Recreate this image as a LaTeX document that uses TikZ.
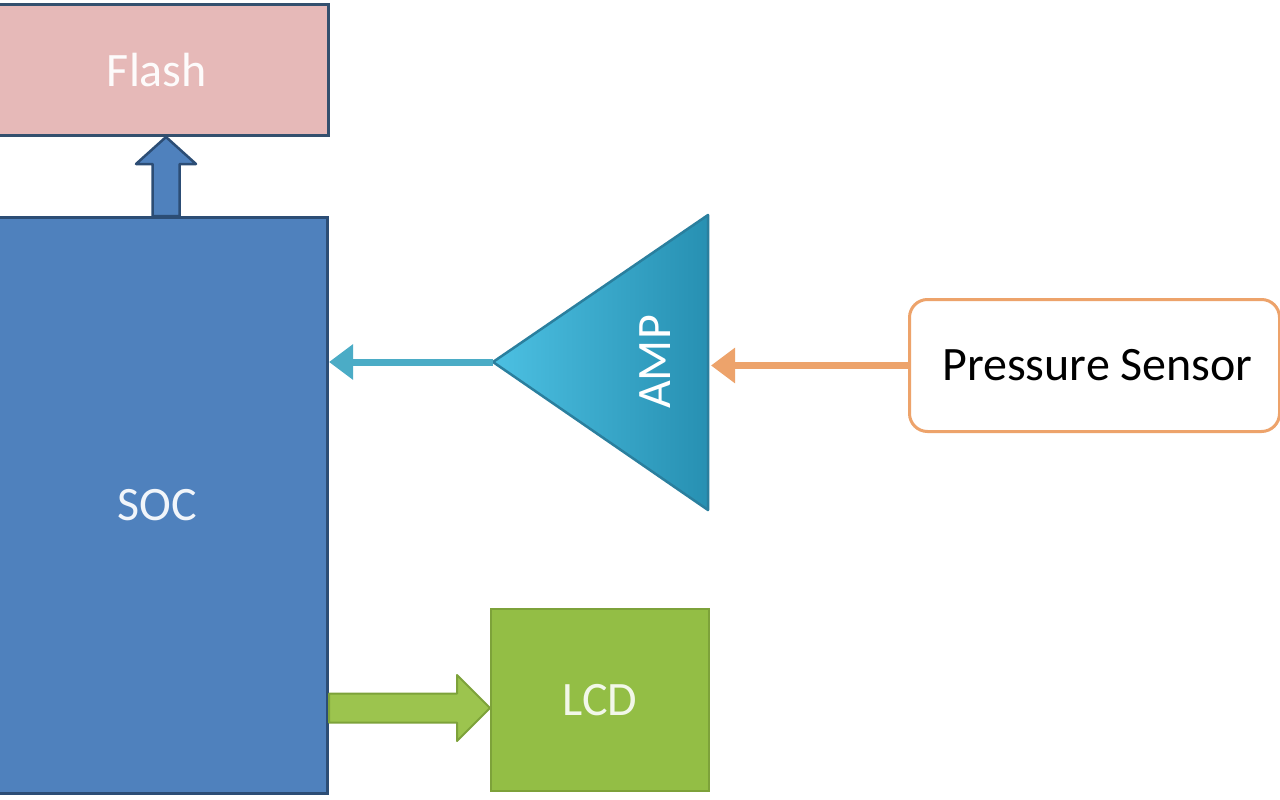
\documentclass[tikz,border=0pt]{standalone}
\usepackage{fontspec}
\setmainfont{Carlito}
\usetikzlibrary{calc,arrows.meta}
\definecolor{flashfill}{HTML}{E6B9B8}
\definecolor{flashline}{HTML}{34506E}
\definecolor{socfill}{HTML}{4F81BD}
\definecolor{socline}{HTML}{2C4D75}
\definecolor{ampleft}{HTML}{4CC0E2}
\definecolor{ampright}{HTML}{2790B2}
\definecolor{ampline}{HTML}{2A7F9E}
\definecolor{lcdfill}{HTML}{93BE45}
\definecolor{lcdline}{HTML}{7DA23A}
\definecolor{garrow}{HTML}{9CC44E}
\definecolor{orangeline}{HTML}{EDA36B}
\definecolor{blueline}{HTML}{4BACC6}
\tikzset{
  lbl/.style={font=\fontsize{48}{56}\selectfont},
  blockbox/.style={rectangle, line width=3pt, anchor=north west, lbl},
  thinarrow/.style={line width=7pt, -{Triangle[length=24pt,width=34pt]}},
}
\begin{document}
\begin{tikzpicture}[x=1pt,y=-1pt]
\useasboundingbox (0,0) rectangle (1280,800);
\fill[white] (0,0) rectangle (1280,800);
% Flash
\node[blockbox, draw=flashline, fill=flashfill, text=white!94!flashfill,
      minimum width=335pt, minimum height=131pt] (flash) at (-8,3) {Flash\hspace*{8pt}};
% SOC
\node[blockbox, draw=socline, fill=socfill, text=white!92!socfill,
      minimum width=334pt, minimum height=576pt] (soc) at (-8,216) {SOC\hspace*{6pt}};
% LCD
\node[blockbox, draw=lcdline, fill=lcdfill, text=white!88!lcdfill, line width=2pt,
      minimum width=218pt, minimum height=182pt] (lcd) at (490,608) {LCD};
% Pressure sensor
\node[blockbox, draw=orangeline, fill=white, text=black, rounded corners=18pt,
      minimum width=370pt, minimum height=132pt] (sensor) at (908,298) {\hspace*{6pt}Pressure Sensor};
% AMP triangle
\coordinate (amptip) at (493,362);
\coordinate (ampback) at (708,362);
\draw[ampline, line width=2.5pt, left color=ampleft, right color=ampright, line join=round]
  (amptip) -- (708,215) -- (708,510) -- cycle;
\node[lbl, text=white, rotate=90] (amp) at (655,362) {AMP};
% AMP -> SOC
\draw[thinarrow, blueline] (amptip) -- (soc.east |- amptip);
% Sensor -> AMP
\draw[thinarrow, orangeline] (sensor.west) -- ($(ampback |- sensor.west)+(3,0)$);
% SOC -> Flash block arrow
\coordinate (ux) at (166,0);
\coordinate (us) at (ux |- soc.north);
\coordinate (uf) at (ux |- flash.south);
\draw[socline, fill=socfill, line width=2.5pt, line join=round]
  ($(us)+(-13.5,0)$) -- ($(uf)+(-13.5,27)$) -- ($(uf)+(-30,27)$) -- (uf)
  -- ($(uf)+(30,27)$) -- ($(uf)+(13.5,27)$) -- ($(us)+(13.5,0)$) -- cycle;
% SOC -> LCD block arrow
\coordinate (gy) at (0,708);
\coordinate (ga) at (soc.east |- gy);
\coordinate (gl) at (lcd.west |- gy);
\draw[lcdline, fill=garrow, line width=2pt, line join=round]
  ($(ga)+(0,-14.5)$) -- ($(gl)+(-33,-14.5)$) -- ($(gl)+(-33,-33)$) -- (gl)
  -- ($(gl)+(-33,33)$) -- ($(gl)+(-33,14.5)$) -- ($(ga)+(0,14.5)$) -- cycle;
\end{tikzpicture}
\end{document}
